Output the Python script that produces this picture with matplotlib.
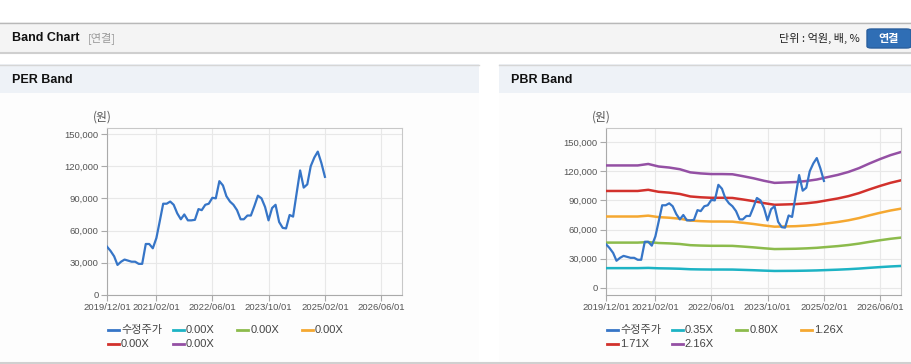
import numpy as np
import pandas as pd
import matplotlib
matplotlib.use("Agg")
import matplotlib.pyplot as plt
from matplotlib.patches import Rectangle, FancyBboxPatch
from matplotlib.lines import Line2D
from matplotlib.ticker import FuncFormatter

# --- data ---
# monthly adjusted price (수정주가), 2019/12 .. 2025/02, in won
price_start = "2019-12-01"
price = [45000, 41000, 36000, 28000, 31000, 33000, 32000, 31000, 31000, 29000,
         29000, 47500, 47500, 43500, 53000, 68000, 85000, 85000, 87000, 84000,
         76000, 70500, 75000, 69500, 69500, 70000, 80000, 79000, 84000, 85000,
         90500, 90000, 106000, 102000, 92000, 87000, 84000, 79000, 70500, 70500,
         74000, 74000, 83000, 92500, 90000, 82000, 69500, 81000, 84000, 68000,
         62500, 62000, 74500, 73000, 95000, 116000, 100000, 103000, 120000, 128000,
         133500, 123000, 110000]

# quarterly BPS used for PBR band lines, 2019/12 .. 2026/12, in won
bps_start = "2019-12-01"
bps = [58300, 58300, 58300, 58300, 59000, 57800, 57300, 56500, 55000, 54500,
       54200, 54200, 54100, 53200, 52200, 51000, 50000, 50200, 50400, 50900,
       51600, 52700, 53800, 55200, 57000, 59200, 61300, 63200, 64700]

pbr_multiples = [0.35, 0.80, 1.26, 1.71, 2.16]
per_multiples = [0.00, 0.00, 0.00, 0.00, 0.00]

band_colors = ["#1db3c4", "#8cbb4c", "#f5a831", "#d2312c", "#9450a4"]
price_color = "#3675c7"

x_ticks = ["2019/12/01", "2021/02/01", "2022/06/01", "2023/10/01", "2025/02/01", "2026/06/01"]
y_ticks = [0, 30000, 60000, 90000, 120000, 150000]

price_dates = pd.date_range(price_start, periods=len(price), freq="MS")
bps_dates = pd.date_range(bps_start, periods=len(bps), freq="3MS")

W, H = 912, 364
fig = plt.figure(figsize=(W / 100, H / 100), dpi=100)
fig.patch.set_facecolor("white")

KR = ["Noto Sans CJK KR", "DejaVu Sans"]
LAT = ["Liberation Sans", "Noto Sans CJK KR"]


def rect(x, y, w, h, **kw):
    fig.add_artist(Rectangle((x / W, 1 - (y + h) / H), w / W, h / H,
                             transform=fig.transFigure, zorder=-10, **kw))


def hline(x0, x1, y, color, lw=1):
    fig.add_artist(Line2D([x0 / W, x1 / W], [1 - y / H, 1 - y / H],
                          transform=fig.transFigure, color=color, lw=lw, zorder=-5))


def txt(x, y, s, **kw):
    fig.text(x / W, 1 - y / H, s, **kw)


# header bar
rect(0, 22, 912, 30, facecolor="#f4f4f4", edgecolor="none")
hline(0, 912, 22.5, "#b8b8b8")
hline(0, 912, 52.5, "#cfcfcf", lw=1.5)
txt(12, 38, "Band Chart", family=LAT, fontsize=9, fontweight="bold", va="center", color="#111111")
txt(88, 38, "[연결]", family=KR, fontsize=8, va="center", color="#999999")
txt(860, 38, "단위 : 억원, 배, %", family=KR, fontsize=8, va="center", ha="right", color="#222222")
fig.add_artist(FancyBboxPatch((867 / W, 1 - 48 / H), 44 / W, 19 / H,
                              boxstyle="round,pad=0,rounding_size=0.005",
                              transform=fig.transFigure, facecolor="#2f6eb5", edgecolor="#2a5f9e"))
txt(889, 38.5, "연결", family=KR, fontsize=8, fontweight="bold", va="center", ha="center", color="white")

# panel frames
for px0, pw, title in [(0, 479, "PER Band"), (499, 413, "PBR Band")]:
    rect(px0, 64, pw, 29, facecolor="#eef2f7", edgecolor="none")
    rect(px0, 93, pw, 269, facecolor="#fdfdfd", edgecolor="none")
    hline(px0, px0 + pw, 64.5, "#d6d6d6")
    txt(px0 + 12, 80, title, family=LAT, fontsize=9, fontweight="bold", va="center", color="#111111")
hline(0, 912, 362.5, "#d0d0d0", lw=1.5)


def setup_axes(left_px, ylim, bands, labels):
    ax = fig.add_axes([left_px / W, (H - 295) / H, 295 / W, 167 / H])
    ax.set_facecolor("#fdfdfd")
    ax.plot(price_dates, price, color=price_color, lw=1.6, zorder=5)
    if bands is not None:
        for m, c in zip(bands, band_colors):
            ax.plot(bps_dates, [m * b for b in bps], color=c, lw=1.8, zorder=4)
    ax.set_xlim(pd.Timestamp("2019-12-01"), pd.Timestamp("2026-12-01"))
    ax.set_ylim(*ylim)
    ax.set_xticks([pd.Timestamp(t.replace("/", "-")) for t in x_ticks])
    ax.set_xticklabels(x_ticks)
    ax.set_yticks(y_ticks)
    ax.yaxis.set_major_formatter(FuncFormatter(lambda v, p: f"{int(v):,}"))
    ax.grid(True, color="#e8e8e8", lw=0.8)
    ax.set_axisbelow(True)
    for s in ["left", "bottom"]:
        ax.spines[s].set_color("#aaaaaa")
    for s in ["top", "right"]:
        ax.spines[s].set_color("#c8c8c8")
    ax.tick_params(axis="both", colors="#aaaaaa", labelcolor="#555555", labelsize=6.8,
                   length=4, width=0.8, pad=2)
    for lab in ax.get_xticklabels() + ax.get_yticklabels():
        lab.set_family(LAT)
    txt(left_px - 5, 117, "(원)", family=KR, fontsize=8.5, va="center", ha="center", color="#555555")

    # legend, drawn row-wise like the reference
    x0 = left_px + 1
    for i, (lab, col) in enumerate(zip(labels, [price_color] + band_colors)):
        r, c = divmod(i, 4)
        xx = x0 + c * 64.7
        yy = 330 + r * 14
        fig.add_artist(Line2D([xx / W, (xx + 11) / W], [1 - yy / H] * 2,
                              transform=fig.transFigure, color=col, lw=2))
        txt(xx + 13, yy, lab, family=LAT, fontsize=8, va="center", color="#444444")
    return ax


per_labels = ["수정주가"] + [f"{m:.2f}X" for m in per_multiples]
pbr_labels = ["수정주가"] + [f"{m:.2f}X" for m in pbr_multiples]

setup_axes(107, (0, 155500), None, per_labels)
setup_axes(606, (-7200, 164400), pbr_multiples, pbr_labels)

fig.savefig("out.png", dpi=100, facecolor=fig.get_facecolor())
